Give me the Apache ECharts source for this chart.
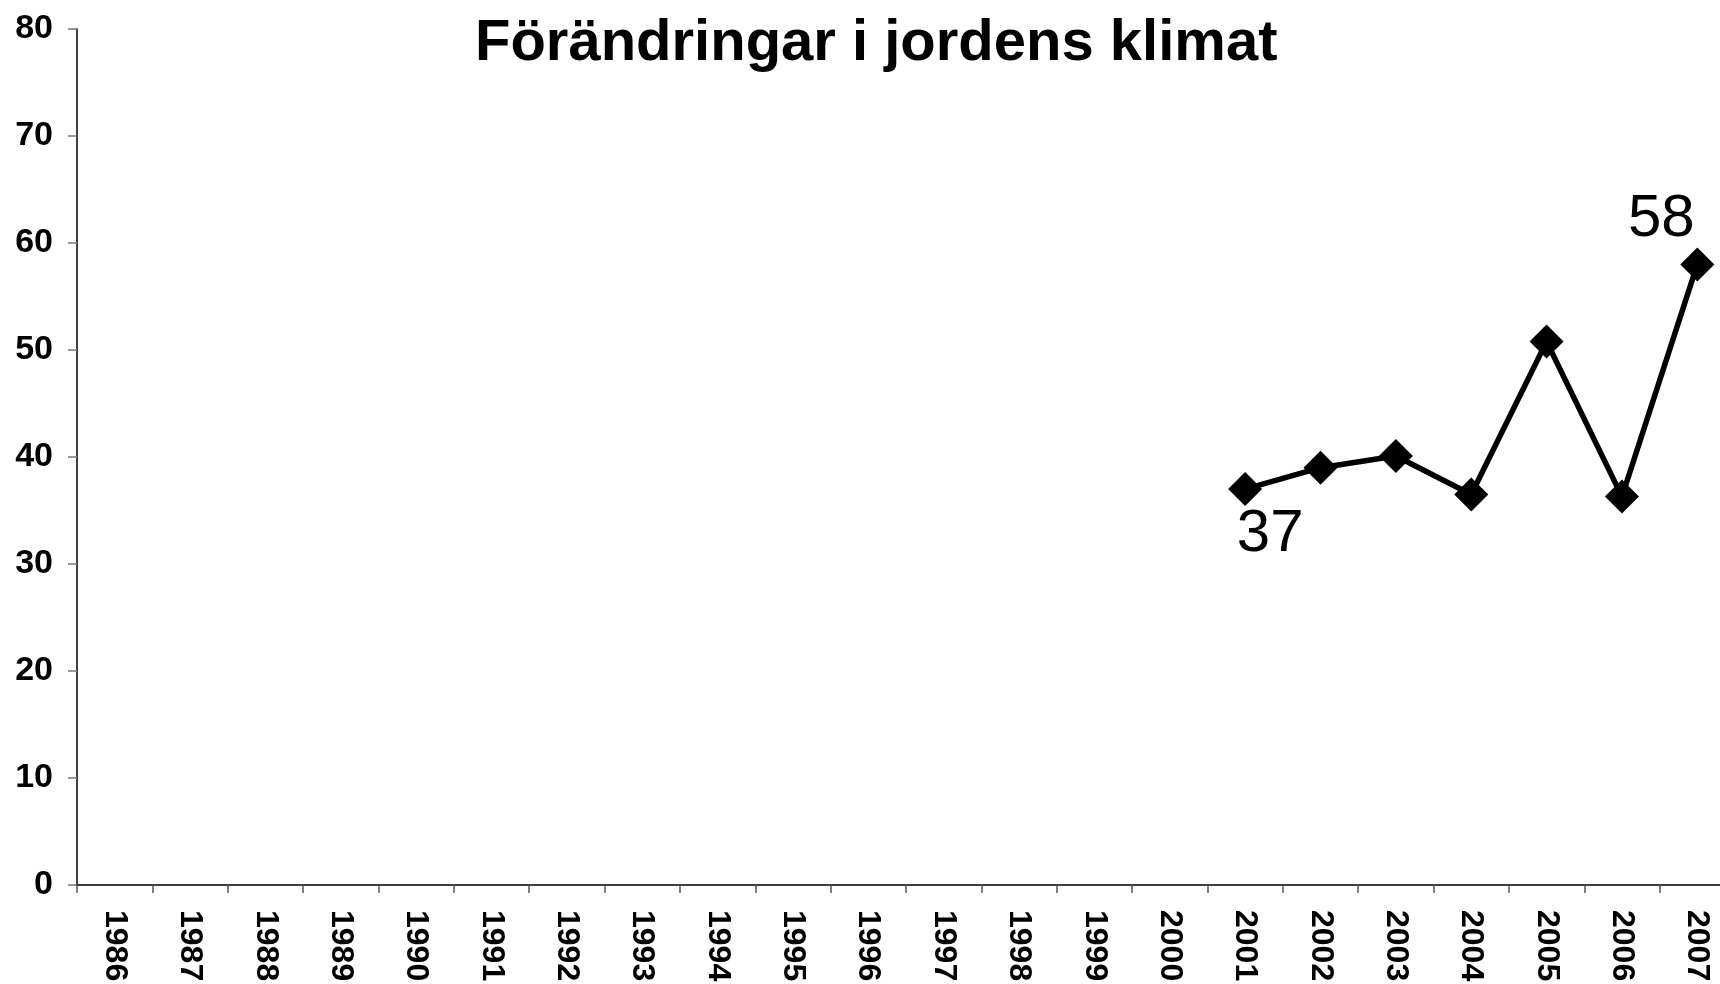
<!DOCTYPE html>
<html>
<head>
<meta charset="utf-8">
<title>Förändringar i jordens klimat</title>
<script src="https://cdn.jsdelivr.net/npm/echarts@6/dist/echarts.min.js"></script>
<style>
  html, body { margin: 0; padding: 0; background: #fff; }
  #chart { width: 1720px; height: 984px; }
</style>
</head>
<body>
<div id="chart"></div>
<script>
var years = ['1986','1987','1988','1989','1990','1991','1992','1993','1994','1995','1996',
             '1997','1998','1999','2000','2001','2002','2003','2004','2005','2006','2007'];
// nothing measured before 2001
var values = ['-','-','-','-','-','-','-','-','-','-','-','-','-','-','-',
              37, 39, 40.1, 36.5, 50.8, 36.3, 58];
var yTicks = [0, 80, 10]; // min, max, step

var font = "'Liberation Sans', Arial, sans-serif";

var seriesData = values.map(function(v, i){
  var item = { value: v };
  if (years[i] == '2001') {
    item.label = { show: true, position: 'bottom', distance: -2, offset: [25, 0] };
  } else if (years[i] == '2007') {
    item.label = { show: true, position: 'top', distance: -2, offset: [-36, 0] };
  }
  return item;
});

var myChart = echarts.init(document.getElementById('chart'));
var option = {
  backgroundColor: '#fff',
  animation: false,
  title: {
    text: 'Förändringar i jordens klimat',
    left: 470,
    top: 10,
    textStyle: { fontFamily: font, fontSize: 58, fontWeight: 'bold', color: '#000' }
  },
  grid: { left: 77, top: 29, width: 1658, bottom: 99, containLabel: false, outerBoundsMode: 'none' },
  xAxis: {
    type: 'category',
    data: years,
    boundaryGap: true,
    axisLine: { lineStyle: { color: '#000', width: 1.5 } },
    axisTick: { show: true, length: 8, lineStyle: { color: '#555', width: 1.5 } },
    axisLabel: {
      interval: 0, rotate: -90, margin: 25,
      fontFamily: font, fontSize: 32, fontWeight: 'bold', color: '#000'
    },
    splitLine: { show: false }
  },
  yAxis: {
    type: 'value',
    min: yTicks[0], max: yTicks[1], interval: yTicks[2],
    axisLine: { show: true, lineStyle: { color: '#000', width: 1.5 } },
    axisTick: { show: true, length: 9, lineStyle: { color: '#777', width: 1.5 } },
    axisLabel: { margin: 24, fontFamily: font, fontSize: 34, fontWeight: 'bold', color: '#000' },
    splitLine: { show: false }
  },
  series: [{
    type: 'line',
    data: seriesData,
    connectNulls: false,
    symbol: 'diamond',
    symbolSize: 34,
    lineStyle: { color: '#000', width: 5.5 },
    itemStyle: { color: '#000' },
    label: {
      show: false,
      fontFamily: font, fontSize: 60, color: '#000',
      formatter: function(p){ return Math.round(p.value); }
    }
  }]
};
myChart.setOption(option);
</script>
</body>
</html>
